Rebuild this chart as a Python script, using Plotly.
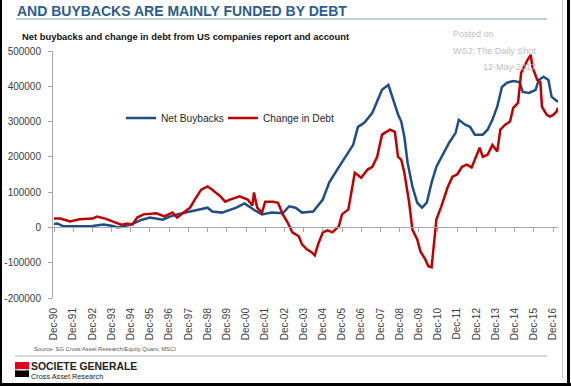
import plotly.graph_objects as go

# ---------------- data ----------------
buyback_dates = ["1990-12", "1991-02", "1991-06", "1992-01", "1992-12", "1993-07", "1993-12",
                 "1994-04", "1994-08", "1994-12", "1995-07", "1995-12", "1996-08", "1996-12",
                 "1997-05", "1998-01", "1998-12", "1999-03", "1999-09", "2000-06", "2000-11",
                 "2001-05", "2001-10", "2002-04", "2002-11", "2003-03", "2003-07", "2003-11",
                 "2004-06", "2004-12", "2005-04", "2005-09", "2006-02", "2006-07", "2006-10",
                 "2007-02", "2007-07", "2008-01", "2008-05", "2008-08", "2008-11", "2009-01",
                 "2009-03", "2009-05", "2009-08", "2009-11", "2010-02", "2010-05", "2010-08",
                 "2010-11", "2011-03", "2011-07", "2011-11", "2012-01", "2012-05", "2012-08",
                 "2012-11", "2013-04", "2013-07", "2013-10", "2014-01", "2014-04", "2014-07",
                 "2014-11", "2015-03", "2015-05", "2015-09", "2016-01", "2016-03", "2016-06",
                 "2016-09", "2016-11", "2017-03"]
buyback_values = [10000, 11000, 3000, 4000, 4000, 8000, 5000,
                  0, 3000, 8000, 22000, 28000, 22000, 30000,
                  37000, 45000, 56000, 45000, 42000, 56000, 68000,
                  50000, 37000, 42000, 40000, 60000, 56000, 42000,
                  45000, 79000, 127000, 164000, 200000, 234000, 285000,
                  297000, 325000, 390000, 404000, 362000, 320000, 300000,
                  257000, 184000, 116000, 70000, 56000, 70000, 127000,
                  172000, 206000, 240000, 268000, 305000, 291000, 285000,
                  263000, 263000, 277000, 305000, 342000, 398000, 410000,
                  415000, 412000, 384000, 381000, 390000, 418000, 427000,
                  418000, 370000, 356000]

debt_dates = ["1990-12", "1991-04", "1991-10", "1992-04", "1992-12", "1993-03", "1993-08",
              "1994-01", "1994-06", "1994-10", "1995-01", "1995-04", "1995-08", "1996-04",
              "1996-09", "1997-02", "1997-05", "1997-09", "1998-01", "1998-04", "1998-08",
              "1998-12", "1999-03", "1999-08", "1999-11", "2000-02", "2000-08", "2001-01",
              "2001-04", "2001-05", "2001-07", "2001-10", "2001-12", "2002-05", "2002-08",
              "2002-11", "2003-02", "2003-05", "2003-09", "2003-11", "2004-02", "2004-05",
              "2004-07", "2004-09", "2004-12", "2005-03", "2005-06", "2005-10", "2005-12",
              "2006-04", "2006-06", "2006-08", "2006-12", "2007-04", "2007-07", "2007-10",
              "2008-01", "2008-04", "2008-06", "2008-09", "2008-11", "2009-01", "2009-03",
              "2009-06", "2009-08", "2009-11", "2010-01", "2010-04", "2010-06", "2010-08",
              "2010-09", "2010-11", "2011-02", "2011-06", "2011-09", "2011-12", "2012-03",
              "2012-06", "2012-09", "2012-12", "2013-02", "2013-04", "2013-07", "2013-10",
              "2014-01", "2014-03", "2014-06", "2014-09", "2014-11", "2015-02", "2015-04",
              "2015-08", "2015-10", "2015-11", "2016-02", "2016-04", "2016-05", "2016-08",
              "2016-10", "2016-12", "2017-02", "2017-03"]
debt_values = [25000, 25000, 17000, 23000, 25000, 31000, 25000,
               17000, 8000, 11000, 8000, 28000, 37000, 40000,
               31000, 42000, 28000, 42000, 56000, 79000, 107000,
               116000, 107000, 88000, 73000, 79000, 88000, 79000,
               62000, 99000, 56000, 42000, 73000, 73000, 70000,
               37000, 14000, -14000, -25000, -48000, -62000, -70000,
               -79000, -48000, -14000, -8000, -14000, 3000, 37000,
               51000, 102000, 155000, 141000, 164000, 172000, 200000,
               263000, 271000, 277000, 271000, 200000, 192000, 155000,
               70000, -6000, -34000, -68000, -90000, -110000, -113000,
               -62000, 23000, 59000, 113000, 144000, 150000, 172000,
               178000, 170000, 206000, 226000, 200000, 206000, 234000,
               215000, 277000, 291000, 300000, 339000, 353000, 438000,
               475000, 489000, 455000, 418000, 412000, 342000, 319000,
               314000, 319000, 328000, 339000]

label_years = list(range(1990, 2017))
y_ticks = [-200000, -100000, 0, 100000, 200000, 300000, 400000, 500000]

series_names = ["Net Buybacks", "Change in Debt"]
title_text = "AND BUYBACKS ARE MAINLY FUNDED BY DEBT"
subtitle_text = "Net buybacks and change in debt from US companies report and account"
source_text = "Source: SG Cross Asset Research/Equity Quant, MSCI"
watermark = ["Posted on", "WSJ: The Daily Shot", "12-May-2017"]

# ---------------- layout helpers ----------------
W, H = 571, 386
L, R, T, B = 53, 13, 51, 88
PW, PH = W - L - R, H - T - B


def fx(p):
    return (p - L) / PW


def fy(p):
    return (H - B - p) / PH


FONT = "Liberation Sans, Arial, sans-serif"
BLUE = "#1f4e86"
RED = "#c00000"
AXIS = "#a6a6a6"

tick_vals = [f"{y}-12-01" for y in label_years]
tick_text = [f"Dec-{y % 100:02d}" for y in label_years]
x_range = ["1990-11-12", "2017-03-02"]

fig = go.Figure()
fig.add_trace(go.Scatter(x=buyback_dates, y=buyback_values, name=series_names[0],
                         mode="lines", line=dict(color=BLUE, width=2.5), legend="legend"))
fig.add_trace(go.Scatter(x=debt_dates, y=debt_values, name=series_names[1],
                         mode="lines", line=dict(color=RED, width=2.5), legend="legend2"))
# carrier trace for the zero-line axis (invisible)
fig.add_trace(go.Scatter(x=buyback_dates[:1], y=[0], xaxis="x2", mode="markers",
                         marker=dict(opacity=0), showlegend=False, hoverinfo="skip"))

shapes = [
    # title underline
    dict(type="line", xref="paper", yref="paper", x0=fx(16), x1=fx(547), y0=fy(19), y1=fy(19),
         line=dict(color="#a9bccf", width=1.5)),
    # footer separator
    dict(type="line", xref="paper", yref="paper", x0=fx(15), x1=fx(547), y0=fy(356), y1=fy(356),
         line=dict(color="#a9bccf", width=1.2)),
    # logo
    dict(type="rect", xref="paper", yref="paper", x0=fx(15), x1=fx(29), y0=fy(362), y1=fy(369.3),
         fillcolor="#e2001a", line=dict(width=0)),
    dict(type="rect", xref="paper", yref="paper", x0=fx(15), x1=fx(29), y0=fy(370.3), y1=fy(377),
         fillcolor="#000000", line=dict(width=0)),
    dict(type="line", xref="paper", yref="paper", x0=fx(18), x1=fx(26), y0=fy(369.8), y1=fy(369.8),
         line=dict(color="#ffffff", width=1)),
    # frame
    dict(type="line", xref="paper", yref="paper", x0=fx(562.5), x1=fx(562.5), y0=fy(0), y1=fy(378),
         line=dict(color="#c8c8c8", width=1)),
    dict(type="line", xref="paper", yref="paper", x0=fx(568.5), x1=fx(568.5), y0=fy(0), y1=fy(386),
         line=dict(color="#000000", width=3)),
    dict(type="line", xref="paper", yref="paper", x0=fx(0), x1=fx(571), y0=fy(384.5), y1=fy(384.5),
         line=dict(color="#000000", width=3)),
    dict(type="line", xref="paper", yref="paper", x0=fx(1), x1=fx(1), y0=fy(0), y1=fy(386),
         line=dict(color="#000000", width=2)),
]

annotations = [
    dict(text=f"<b>{title_text}</b>", x=fx(15), y=fy(11), xanchor="left", yanchor="middle",
         font=dict(family=FONT, size=14, color="#2e5c8c")),
    dict(text=f"<b>{subtitle_text}</b>", x=fx(20), y=fy(36), xanchor="left", yanchor="middle",
         font=dict(family=FONT, size=9.4, color="#111111")),
    dict(text=watermark[0], x=fx(451), y=fy(34), xanchor="left", yanchor="middle",
         font=dict(family=FONT, size=9, color="#c0c0c0")),
    dict(text=watermark[1], x=fx(451), y=fy(51), xanchor="left", yanchor="middle",
         font=dict(family=FONT, size=9, color="#c0c0c0")),
    dict(text=watermark[2], x=fx(481), y=fy(67), xanchor="left", yanchor="middle",
         font=dict(family=FONT, size=9, color="#c0c0c0")),
    dict(text=source_text, x=fx(32), y=fy(349), xanchor="left", yanchor="middle",
         font=dict(family=FONT, size=5.8, color="#555555")),
    dict(text="<b>SOCIETE GENERALE</b>", x=fx(29), y=fy(366), xanchor="left", yanchor="middle",
         font=dict(family=FONT, size=10.4, color="#222222")),
    dict(text="Cross Asset Research", x=fx(29), y=fy(376), xanchor="left", yanchor="middle",
         font=dict(family=FONT, size=7.3, color="#222222")),
]
for a in annotations:
    a.update(xref="paper", yref="paper", showarrow=False)

legend_common = dict(orientation="h", y=fy(118), xanchor="left", yanchor="middle",
                     font=dict(family=FONT, size=10.2, color="#262626"),
                     bgcolor="rgba(0,0,0,0)", itemwidth=30)

fig.update_layout(
    width=W, height=H,
    margin=dict(l=L, r=R, t=T, b=B, pad=0, autoexpand=False),
    paper_bgcolor="white", plot_bgcolor="white",
    font=dict(family=FONT, size=10, color="#404040"),
    showlegend=True,
    legend=dict(x=fx(121), **legend_common),
    legend2=dict(x=fx(223), **legend_common),
    xaxis=dict(type="date", range=x_range, tickvals=tick_vals, ticktext=tick_text,
               tickangle=-90, showgrid=False, showline=False, ticks="", zeroline=False,
               ticklabelstandoff=7, automargin=False,
               tickfont=dict(family=FONT, size=10, color="#404040")),
    xaxis2=dict(type="date", range=x_range, overlaying="x", anchor="free",
                position=(0 - y_ticks[0]) / (y_ticks[-1] - y_ticks[0]),
                tickvals=tick_vals, showticklabels=False, showgrid=False, zeroline=False,
                showline=True, linecolor=AXIS, linewidth=1, ticks="outside", ticklen=4,
                tickcolor=AXIS, tickwidth=1, automargin=False),
    yaxis=dict(range=[y_ticks[0], y_ticks[-1]], tickvals=y_ticks, ticktext=[str(v) for v in y_ticks],
               showgrid=False, zeroline=False, showline=True, linecolor=AXIS, linewidth=1,
               ticks="outside", ticklen=4, tickcolor=AXIS, ticklabelstandoff=5, automargin=False,
               tickfont=dict(family=FONT, size=10, color="#404040")),
    shapes=shapes,
    annotations=annotations,
)

fig.write_html("out.html", config={"displayModeBar": False},
               post_script="document.body.style.margin='0';document.body.style.overflow='hidden';")
